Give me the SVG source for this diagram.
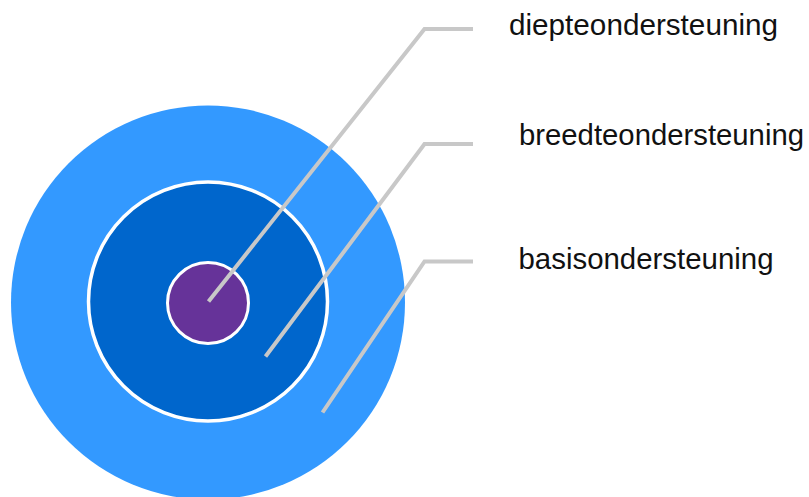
<svg xmlns="http://www.w3.org/2000/svg" width="809" height="497" viewBox="0 0 809 497">
  <style>
    .lbl { font-family: "Liberation Sans", Arial, sans-serif; font-size: 29px; fill: #111111; }
    .conn { fill: none; stroke: #C8C8C8; stroke-width: 4; stroke-linejoin: miter; }
  </style>
  <rect width="809" height="497" fill="#FFFFFF"/>
  <g id="basisondersteuning">
    <circle cx="208" cy="302.5" r="197" fill="#3399FF"/>
  </g>
  <g id="breedteondersteuning">
    <circle cx="208" cy="301.5" r="119.5" fill="#0066CC" stroke="#FFFFFF" stroke-width="3.5"/>
  </g>
  <g id="diepteondersteuning">
    <circle cx="208" cy="303" r="40.5" fill="#663399" stroke="#FFFFFF" stroke-width="3"/>
  </g>
  <g id="connectors">
    <polyline class="conn" points="208.5,301.5 424.5,29 473,29"/>
    <polyline class="conn" points="265.5,356.5 424.5,144 473,144"/>
    <polyline class="conn" points="322.5,412.5 424.5,261.5 473,261.5"/>
  </g>
  <g id="labels">
    <text class="lbl" x="509" y="35" textLength="269" lengthAdjust="spacingAndGlyphs">diepteondersteuning</text>
    <text class="lbl" x="519" y="145" textLength="285" lengthAdjust="spacingAndGlyphs">breedteondersteuning</text>
    <text class="lbl" x="518.5" y="268.5" textLength="255" lengthAdjust="spacingAndGlyphs">basisondersteuning</text>
  </g>
</svg>
